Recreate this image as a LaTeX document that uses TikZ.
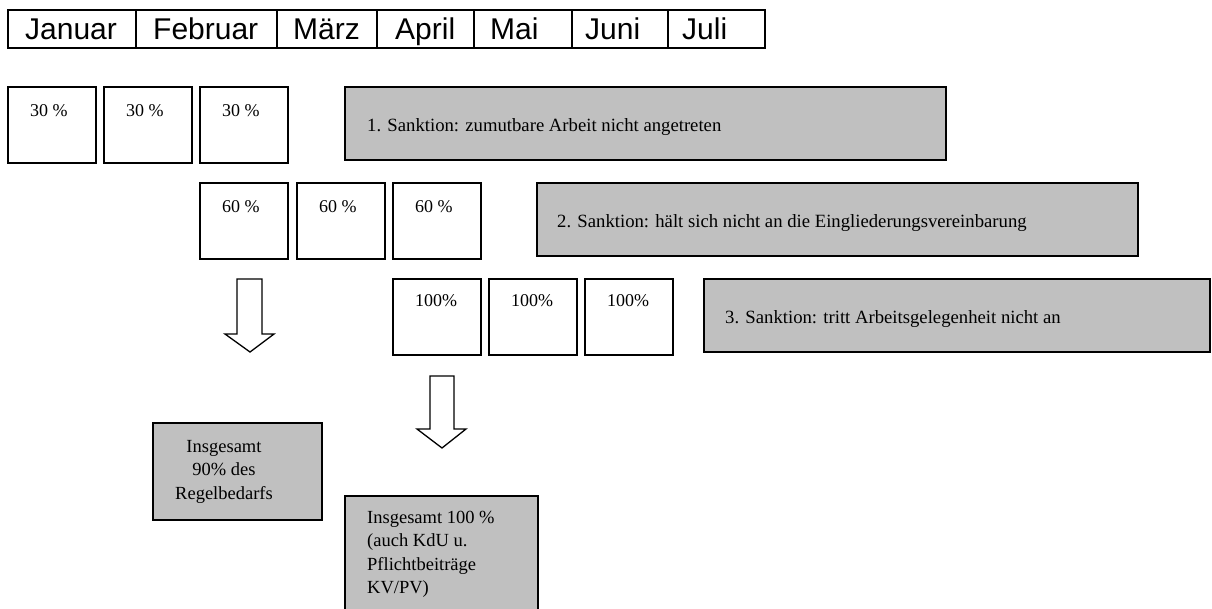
\documentclass[tikz,border=0pt]{standalone}
\usepackage{fontspec}
\setmainfont{Liberation Serif}
\newfontfamily\arialfont{Liberation Sans}
\usetikzlibrary{calc}
\definecolor{boxgray}{RGB}{192,192,192}
\begin{document}
\begin{tikzpicture}[x=1pt,y=-1pt,
  mon/.style={draw, line width=1.5pt, anchor=north west, minimum height=38pt, inner sep=0pt, outer sep=0pt},
  montext/.style={anchor=base west, inner sep=0pt, font=\arialfont\fontsize{30}{36}\selectfont},
  pbox/.style={draw, line width=1.5pt, fill=white, anchor=north west, minimum width=88pt, minimum height=76pt, inner sep=0pt, outer sep=0pt},
  ptext/.style={anchor=base west, inner sep=0pt, font=\fontsize{18}{22}\selectfont},
  sbox/.style={draw, line width=1.5pt, fill=boxgray, anchor=north west, inner sep=0pt, outer sep=0pt},
  stext/.style={anchor=base west, inner sep=0pt, font=\fontsize{18.7}{23.5}\selectfont},
  mtext/.style={anchor=north, inner sep=0pt, font=\fontsize{18.5}{23.5}\selectfont},
  blockarrow/.style={draw, line width=1.3pt, fill=white, line join=miter}]
\useasboundingbox (0,0) rectangle (1212,608);

% month table
\node[mon, minimum width=128pt] (jan) at (8,10) {};
\node[mon, minimum width=141pt] (feb) at (136,10) {};
\node[mon, minimum width=100pt] (mar) at (277,10) {};
\node[mon, minimum width=97pt]  (apr) at (377,10) {};
\node[mon, minimum width=98pt]  (mai) at (474,10) {};
\node[mon, minimum width=96pt]  (jun) at (572,10) {};
\node[mon, minimum width=97pt]  (jul) at (668,10) {};
\node[montext] (tjan) at ($(jan.north west)+(17,29)$) {Januar};
\node[montext] (tfeb) at ($(feb.north west)+(17,29)$) {Februar};
\node[montext] (tmar) at ($(mar.north west)+(16,29)$) {März};
\node[montext] (tapr) at ($(apr.north west)+(18,29)$) {April};
\node[montext] (tmai) at ($(mai.north west)+(16,29)$) {Mai};
\node[montext] (tjun) at ($(jun.north west)+(13,29)$) {Juni};
\node[montext] (tjul) at ($(jul.north west)+(14,29)$) {Juli};

% row 1: 30 %
\node[pbox] (a1) at (8,87) {};
\node[pbox] (a2) at (104,87) {};
\node[pbox] (a3) at (200,87) {};
\node[ptext] (ta1) at ($(a1.north west)+(22,29)$) {30 \%};
\node[ptext] (ta2) at ($(a2.north west)+(22,29)$) {30 \%};
\node[ptext] (ta3) at ($(a3.north west)+(22,29)$) {30 \%};
\node[sbox, minimum width=601pt, minimum height=73pt] (s1) at (345,87) {};
\node[stext] (ts1) at (367,131) {1. Sanktion: zumutbare Arbeit nicht angetreten};

% row 2: 60 %
\node[pbox] (b1) at (200,183) {};
\node[pbox] (b2) at (297,183) {};
\node[pbox] (b3) at (393,183) {};
\node[ptext] (tb1) at ($(b1.north west)+(22,29)$) {60 \%};
\node[ptext] (tb2) at ($(b2.north west)+(22,29)$) {60 \%};
\node[ptext] (tb3) at ($(b3.north west)+(22,29)$) {60 \%};
\node[sbox, minimum width=601pt, minimum height=73pt] (s2) at (537,183) {};
\node[stext] (ts2) at (557,227) {2. Sanktion: hält sich nicht an die Eingliederungsvereinbarung};

% row 3: 100 %
\node[pbox] (c1) at (393,279) {};
\node[pbox] (c2) at (489,279) {};
\node[pbox] (c3) at (585,279) {};
\node[ptext] (tc1) at ($(c1.north west)+(22,27)$) {100\%};
\node[ptext] (tc2) at ($(c2.north west)+(22,27)$) {100\%};
\node[ptext] (tc3) at ($(c3.north west)+(22,27)$) {100\%};
\node[sbox, minimum width=506pt, minimum height=73pt] (s3) at (704,279) {};
\node[stext] (ts3) at (725,323) {3. Sanktion: tritt Arbeitsgelegenheit nicht an};

% block arrows
\draw[blockarrow] (237,279) -- (262,279) -- (262,334) -- (274,334) -- (250,352) -- (225,334) -- (237,334) -- cycle;
\draw[blockarrow] (430,376) -- (454,376) -- (454,429) -- (466,429) -- (442,448) -- (417,429) -- (430,429) -- cycle;

% result boxes
\node[sbox, minimum width=169pt, minimum height=97pt] (r1) at (153,423) {};
\node[mtext, align=center] (tr1) at (224,439.8) {Insgesamt\\90\% des\\Regelbedarfs};
\node[sbox, minimum width=193pt, minimum height=130pt] (r2) at (345,496) {};
\node[mtext, anchor=north west, align=left] (tr2) at (367,510.5) {Insgesamt 100 \%\\(auch KdU u.\\Pflichtbeiträge\\KV/PV)};
\end{tikzpicture}
\end{document}
